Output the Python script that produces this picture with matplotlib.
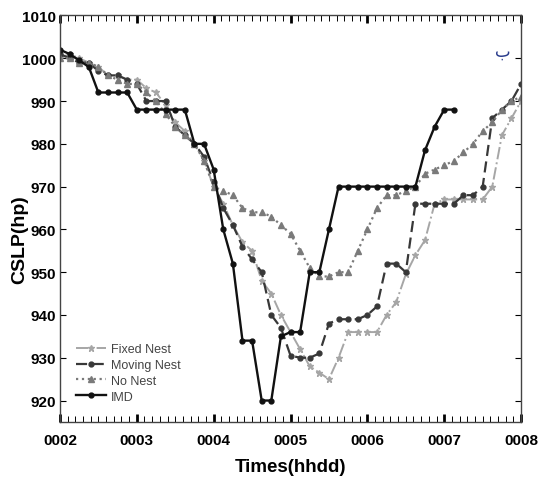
import numpy as np
import matplotlib
matplotlib.use("Agg")
import matplotlib.pyplot as plt
from matplotlib.ticker import MultipleLocator

# time in days (3-hourly), labelled as hhdd
times = np.arange(2.0, 8.0001, 0.125)
imd_times = times[:42]

fixed_nest = [1000, 1001, 1000, 999, 998, 996, 996, 995,
              995, 993, 992, 989, 985, 983, 980, 976,
              970, 966, 961, 957, 955, 948, 945, 940,
              936, 932, 928, 926.5, 925, 930, 936, 936,
              936, 936, 940, 943, 949.5, 954, 957.5, 966,
              967, 967, 967, 967, 967, 970, 982, 986,
              990]
moving_nest = [1001, 1000, 999, 999, 997, 996, 996, 995,
               994, 990, 990, 990, 984, 982, 980, 977,
               971, 965, 961, 956, 953, 950, 940, 937,
               930.5, 930, 930, 931, 938, 939, 939, 939,
               940, 942, 952, 952, 950, 966, 966, 966,
               966, 966, 968, 968, 970, 986, 988, 990,
               994]
no_nest = [1000, 1000, 999, 999, 998, 996, 995, 994,
           994, 992, 990, 987, 984, 982, 980, 976,
           970, 969, 968, 965, 964, 964, 963, 961,
           959, 955, 951, 949, 949, 950, 950, 955,
           960, 965, 968, 968, 969, 970, 973, 974,
           975, 976, 978, 980, 983, 985, 988, 990,
           991]
imd = [1002, 1001, 999.5, 998, 992, 992, 992, 992,
       988, 988, 988, 988, 988, 988, 980, 980,
       974, 960, 952, 934, 934, 920, 920, 935,
       936, 936, 950, 950, 960, 970, 970, 970,
       970, 970, 970, 970, 970, 970, 978.5, 984,
       988, 988]

xtick_vals = [2, 3, 4, 5, 6, 7, 8]
xtick_labels = ['0002', '0003', '0004', '0005', '0006', '0007', '0008']
ytick_vals = [920, 930, 940, 950, 960, 970, 980, 990, 1000, 1010]

plt.rcParams['font.family'] = ['Liberation Sans', 'DejaVu Sans']

fig = plt.figure(figsize=(5.4, 4.85), dpi=100)
ax = fig.add_axes([0.111, 0.128, 0.854, 0.838])

ax.plot(times, fixed_nest, color='#a6a6a6', ls='-.', lw=1.4, marker='*', ms=5, label='Fixed Nest')
ax.plot(times, moving_nest, color='#383838', ls=(0, (5, 2.5)), lw=1.6, marker='o', ms=3.5, label='Moving Nest')
ax.plot(times, no_nest, color='#7a7a7a', ls=':', lw=1.6, marker='^', ms=4, label='No Nest')
ax.plot(imd_times, imd, color='#111111', ls='-', lw=1.7, marker='o', ms=3.5, label='IMD')

ax.set_xlim(2, 8)
ax.set_ylim(915, 1010)
ax.set_xticks(xtick_vals)
ax.set_xticklabels(xtick_labels)
ax.set_yticks(ytick_vals)
ax.xaxis.set_minor_locator(MultipleLocator(0.1))
ax.tick_params(axis='x', which='major', direction='in', top=True, length=6, width=2, pad=8)
ax.tick_params(axis='x', which='minor', direction='in', top=True, length=4, width=0.7)
ax.tick_params(axis='y', which='major', direction='in', right=True, length=4, width=0.8, pad=3)
for lab in ax.get_xticklabels() + ax.get_yticklabels():
    lab.set_fontweight('bold')
    lab.set_fontsize(11)
for sp in ax.spines.values():
    sp.set_linewidth(1.0)
    sp.set_color('#444444')

ax.set_xlabel('Times(hhdd)', fontsize=13.5, fontweight='bold')
ax.set_ylabel('CSLP(hp)', fontsize=14, fontweight='bold')
ax.xaxis.set_label_coords(0.5, -0.09)
ax.yaxis.set_label_coords(-0.088, 0.45)
ax.yaxis.label.set_va('center')

ax.text(0.961, 0.914, 'ب', transform=ax.transAxes, color='#2a3c8c', fontsize=12,
        family=['DejaVu Sans'], ha='center', va='center')

leg = ax.legend(loc='lower left', bbox_to_anchor=(0.01, 0.02), frameon=False,
                fontsize=9, handlelength=2.4, handletextpad=0.4, labelspacing=0.3)
for t in leg.get_texts():
    t.set_color('#444444')

fig.savefig('out.png', dpi=100)
